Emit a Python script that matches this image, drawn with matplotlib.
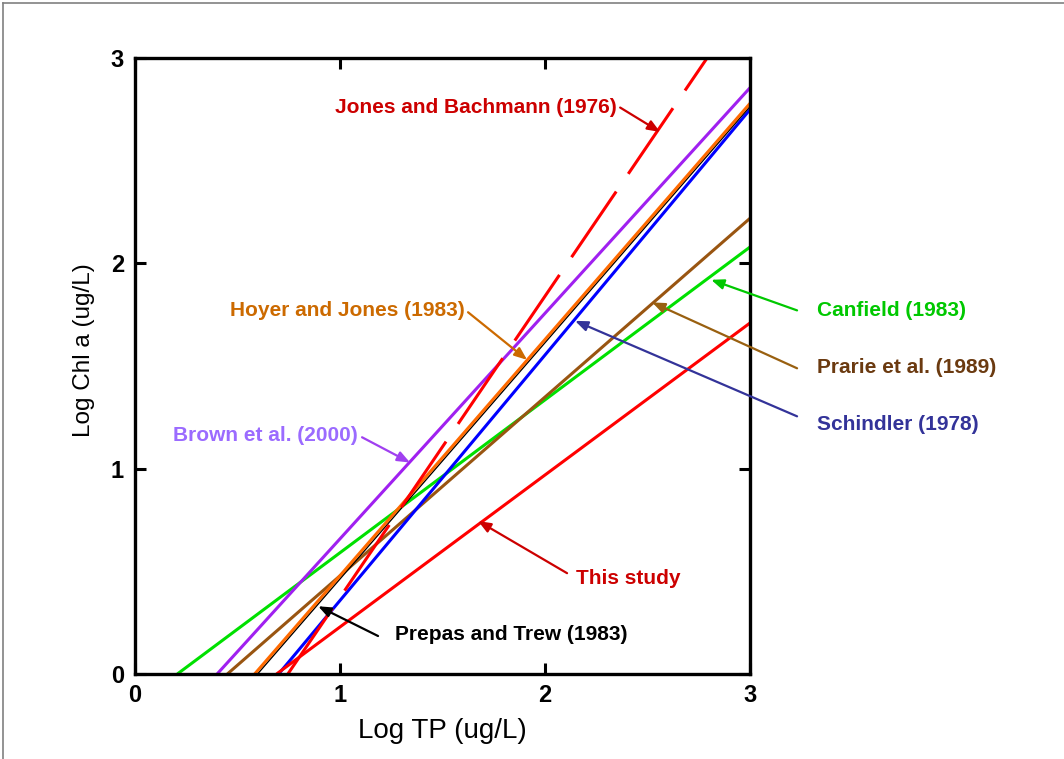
"""
Published Chl a - TP regressions compared with this study.
"""

import matplotlib
matplotlib.use("Agg")
import matplotlib.pyplot as plt
from matplotlib.lines import Line2D


# each line: start and end point (log TP, log Chl a)
names = ["Canfield (1983)", "Brown et al. (2000)", "Prarie et al. (1989)",
         "Hoyer and Jones (1983)", "Prepas and Trew (1983)", "Schindler (1978)",
         "This study", "Jones and Bachmann (1976)"]
x_start = [0.206, 0.40, 0.45, 0.583, 0.597, 0.70, 0.69, 0.745]
y_start = [0.0, 0.0, 0.0, 0.0, 0.0, 0.0, 0.0, 0.0]
x_end = [3.0, 3.0, 3.0, 3.0, 3.0, 3.0, 3.0, 2.79]
y_end = [2.08, 2.856, 2.22, 2.78, 2.765, 2.75, 1.71, 3.0]

line_colors = ["#00E000", "#A020F0", "#995511", "#FF6A00", "#000000",
               "#0000FF", "#FF0000", "#FF0000"]
line_widths = [2.2, 2.2, 2.2, 2.2, 1.0, 2.2, 2.2, 2.2]
text_colors = ["#00C800", "#9B6BFF", "#6B3A10", "#CC6A00", "#000000",
               "#333399", "#CC0000", "#CC0000"]
arrow_colors = ["#00C800", "#A040F0", "#996010", "#CC6A00", "#000000",
                "#333399", "#CC0000", "#CC0000"]
line_styles = ["-"] * 7 + [(0, (26, 7))]
draw_order = [0, 1, 2, 5, 4, 3, 6, 7]

# label text position, arrow tail, arrow tip (data coords) and alignment
label_xy = [(3.327, 1.771), (0.634, 1.163), (3.327, 1.494), (1.034, 1.771),
            (1.834, 0.19), (3.327, 1.217), (2.405, 0.467), (1.663, 2.759)]
label_ha = ["left", "center", "left", "center", "center", "left", "center", "center"]
arrow_tail = [(3.229, 1.771), (1.107, 1.153), (3.229, 1.489), (1.624, 1.762),
              (1.185, 0.185), (3.229, 1.255), (2.107, 0.491), (2.366, 2.759)]
arrow_tip = [(2.81, 1.92), (1.341, 1.03), (2.522, 1.81), (1.912, 1.53),
             (0.893, 0.33), (2.146, 1.72), (1.673, 0.745), (2.561, 2.64)]

ticks = [0, 1, 2, 3]

fig = plt.figure(figsize=(10.64, 7.59), dpi=100)
ax = fig.add_axes([0.127, 0.112, 0.578, 0.8115])

for i in draw_order:
    ax.plot([x_start[i], x_end[i]], [y_start[i], y_end[i]], color=line_colors[i],
            lw=line_widths[i], linestyle=line_styles[i], solid_capstyle="butt",
            dash_capstyle="butt")

for i in range(len(names)):
    ax.text(label_xy[i][0], label_xy[i][1], names[i], color=text_colors[i],
            ha=label_ha[i], va="center", fontsize=15, fontweight="bold",
            family=["Liberation Sans", "DejaVu Sans"], clip_on=False)
    ax.annotate("", xy=arrow_tip[i], xytext=arrow_tail[i], annotation_clip=False,
                arrowprops=dict(arrowstyle="-|>,head_length=0.75,head_width=0.3",
                                color=arrow_colors[i], lw=1.6,
                                shrinkA=0, shrinkB=0))

ax.set_xlim(0, 3)
ax.set_ylim(0, 3)
ax.set_xticks(ticks)
ax.set_yticks(ticks)
sans = ["Liberation Sans", "DejaVu Sans"]
ax.set_xticklabels([str(t) for t in ticks], family=sans, fontsize=17,
                   fontweight="bold")
ax.set_yticklabels([str(t) for t in ticks], family=sans, fontsize=17,
                   fontweight="bold")
ax.tick_params(direction="in", length=8, width=2.2, top=True, right=True,
               labeltop=False, labelright=False)
ax.tick_params(axis="x", pad=7)
ax.tick_params(axis="y", pad=8)
for s in ax.spines.values():
    s.set_linewidth(2.4)

ax.set_xlabel("Log TP (ug/L)", family=sans, fontsize=20)
ax.set_ylabel("Log Chl a (ug/L)", family=sans, fontsize=17.5)
ax.xaxis.set_label_coords(0.5, -0.072)
ax.yaxis.set_label_coords(-0.066, 0.526)

# grey frame round the slide, top and left edges only
fig.add_artist(Line2D([0.003, 0.003], [0, 0.996], color="#808080", lw=1.2))
fig.add_artist(Line2D([0.003, 1.0], [0.996, 0.996], color="#808080", lw=1.2))

fig.savefig("out.png", dpi=100)
